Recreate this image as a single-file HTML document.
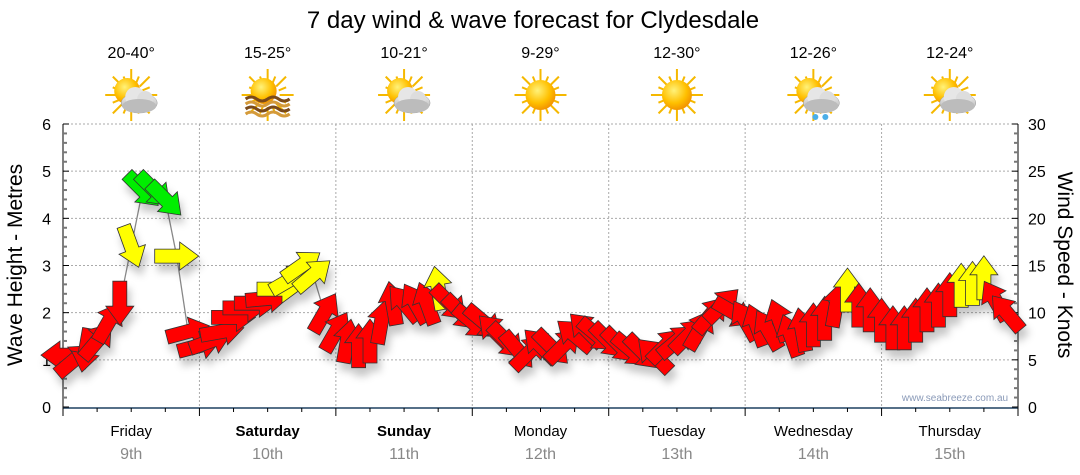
<!DOCTYPE html>
<html><head><meta charset="utf-8"><style>
html,body{margin:0;padding:0;background:#fff;}
svg{display:block;font-family:"Liberation Sans",sans-serif;}
</style></head><body>
<svg id="chart" width="1080" height="475" viewBox="0 0 1080 475">
<defs>
<filter id="sh" x="-20%" y="-20%" width="140%" height="160%"><feDropShadow dx="3" dy="8" stdDeviation="4" flood-color="#000" flood-opacity="0.22"/></filter>
<radialGradient id="sun" cx="0.4" cy="0.35" r="0.7"><stop offset="0" stop-color="#fff27a"/><stop offset="0.6" stop-color="#ffc000"/><stop offset="1" stop-color="#f08c00"/></radialGradient>
<linearGradient id="cloud" x1="0" y1="0" x2="0" y2="1"><stop offset="0" stop-color="#f4f4f4"/><stop offset="1" stop-color="#a9a9a9"/></linearGradient>
</defs>
<text x="533" y="28" font-size="24" text-anchor="middle" fill="#000">7 day wind &amp; wave forecast for Clydesdale</text>
<g id="grid"></g>
<g id="axes"></g>
<g id="icons"></g>
<g id="marks"></g>
<text x="955" y="401" font-size="10" text-anchor="middle" fill="#8a9ab8">www.seabreeze.com.au</text>
<text transform="translate(22,265) rotate(-90)" font-size="21" text-anchor="middle" fill="#000">Wave Height - Metres</text>
<text transform="translate(1058,265) rotate(90)" font-size="21" text-anchor="middle" fill="#000">Wind Speed - Knots</text>
</svg>
<script>
const days = ["Friday","Saturday","Sunday","Monday","Tuesday","Wednesday","Thursday"];
const dates = ["9th","10th","11th","12th","13th","14th","15th"];
const boldDays = [false,true,true,false,false,false,false];
const temps = ["20-40°","15-25°","10-21°","9-29°","12-30°","12-26°","12-24°"];
const iconTypes = ["cloud","haze","cloud","sun","sun","rain","cloud"];
const leftTicks = [0,1,2,3,4,5,6];
const rightTicks = [0,5,10,15,20,25,30];
const windKnots = [
 5.5,5,6,7,9,11,17,23,23,22,16,8,
 6.5,7,8,9.5,10.5,11,11.5,12.5,13.5,15,14,10,
 8,7,6.5,7,9,11,11,11,11,12.6,11,10,
 9,9,8,7,6,5.8,6.5,6.3,6.5,7.6,8.2,7.6,
 7,6.5,6,5.8,5.5,6.5,7,7.6,8.2,9.8,10.8,10,
 9.2,8.7,8.2,9.2,7.6,8.2,8.7,9.4,10.8,12.4,10.8,10.3,
 9.2,8.4,8.4,9.2,10.3,10.8,11.9,12.9,13.1,13.7,11.3,10
];
const windDir = [
 180,-40,100,-50,-60,90,70,45,45,45,0,-15,
 -15,-20,-10,0,0,0,-5,0,-30,-35,-40,-60,
 -60,-80,-90,-90,-80,-100,-130,-120,-110,-100,45,45,
 40,40,-135,45,50,-45,-135,45,-45,-140,-135,40,
 45,45,40,45,-135,-45,-40,-45,-60,-50,-45,30,
 -120,-110,-120,-110,-110,-100,-90,-90,-80,-90,-90,-90,
 -90,-90,-90,-90,-90,-90,-90,-90,-90,-90,-120,-130
];
const hoursPerPoint = 2;

const NS="http://www.w3.org/2000/svg";
const X0=63,X1=1018,Y0=407,YT=124;
const dayW=(X1-X0)/7;
function xHour(h){return X0+h/24*dayW;}
function yM(m){return Y0-(m/6)*(Y0-YT);}
function yK(k){return Y0-(k/30)*(Y0-YT);}
function mk(tag,attrs,parent){const e=document.createElementNS(NS,tag);for(const k in attrs)e.setAttribute(k,attrs[k]);parent.appendChild(e);return e;}

const grid=document.getElementById('grid');
const axes=document.getElementById('axes');
for(let i=1;i<=6;i++){
 const g=mk('line',{x1:X0,x2:X1,y1:yM(i),y2:yM(i),stroke:'#aaa','stroke-dasharray':'2,2'},grid);
 
 
}
for(let d=1;d<7;d++){
 const x=X0+d*dayW;
 const g=mk('line',{x1:x,x2:x,y1:YT,y2:Y0,stroke:'#aaa','stroke-dasharray':'2,2'},grid);
 
 
}
mk('line',{x1:X0,x2:X0,y1:YT,y2:Y0+4,stroke:'#000','stroke-width':1},axes);
mk('line',{x1:X1,x2:X1,y1:YT,y2:Y0+4,stroke:'#000','stroke-width':1},axes);
mk('line',{x1:X0,x2:X1,y1:Y0+1,y2:Y0+1,stroke:'#1f4060','stroke-width':1.5},axes);
for(let i=0;i<=30;i++){
 const y=Y0-i*(Y0-YT)/30;
 const major=i%5===0;
 mk('line',{x1:X0,x2:X0+(major?6:4),y1:y,y2:y,stroke:major?'#000':'#777','stroke-width':major?1:2},axes);
 mk('line',{x1:X1-(major?6:4),x2:X1,y1:y,y2:y,stroke:major?'#000':'#777','stroke-width':major?1:2},axes);
}
leftTicks.forEach(v=>{
 const t=mk('text',{x:X0-12,y:yM(v)+6,'font-size':16,'text-anchor':'end',fill:'#000'},axes);
 t.textContent=v;
 
 
});
rightTicks.forEach(v=>{
 const t=mk('text',{x:X1+10,y:yK(v)+6,'font-size':16,'text-anchor':'start',fill:'#000'},axes);
 t.textContent=v;
 
 
});
for(let q=0;q<=28;q++){
 const x=X0+q*dayW/4;const major=q%4===0;
 mk('line',{x1:x,x2:x,y1:Y0+1,y2:Y0+(major?9:5),stroke:'#000'},axes);
}
days.forEach((d,i)=>{
 const cx=X0+(i+0.5)*dayW;
 const t=mk('text',{x:cx,y:436,'font-size':15,'text-anchor':'middle',fill:'#000','font-weight':boldDays[i]?'bold':'normal'},axes);
 t.textContent=d;
 
 
 const t2=mk('text',{x:cx,y:459,'font-size':16,'text-anchor':'middle',fill:'#888'},axes);
 t2.textContent=dates[i];
 
 
 const t3=mk('text',{x:cx,y:58,'font-size':16,'text-anchor':'middle',fill:'#000'},axes);
 t3.textContent=temps[i];
 
 
});
const icons=document.getElementById('icons');
iconTypes.forEach((tp,i)=>{
 const cx=X0+(i+0.5)*dayW;const cy=95;
 const g=mk('g',{transform:`translate(${cx},${cy})`},icons);
 
 
 for(let a=0;a<16;a++){
  const ang=a*Math.PI/8;const r2=a%2?20:26;
  mk('line',{x1:Math.cos(ang)*12,y1:Math.sin(ang)*12,x2:Math.cos(ang)*r2,y2:Math.sin(ang)*r2,stroke:'#f5b800','stroke-width':2},g);
 }
 const sx=tp==='sun'?0:-4, sy=tp==='sun'?0:-4;
 mk('circle',{cx:sx,cy:sy,r:tp==='sun'?15:13,fill:'url(#sun)'},g);
 if(tp==='cloud'||tp==='rain'){
  mk('ellipse',{cx:8,cy:8,rx:18,ry:10,fill:'url(#cloud)',stroke:'#999','stroke-width':0.5},g);
  mk('circle',{cx:4,cy:2,r:10,fill:'#e6e6e6'},g);
  mk('circle',{cx:14,cy:4,r:8,fill:'#ddd'},g);
  mk('ellipse',{cx:8,cy:11,rx:17,ry:7,fill:'#bcbcbc'},g);
 }
 if(tp==='rain'){
  mk('circle',{cx:2,cy:22,r:3,fill:'#4aaee8'},g);
  mk('circle',{cx:12,cy:22,r:3,fill:'#4aaee8'},g);
 }
 if(tp==='haze'){
  for(let k=0;k<4;k++)mk('path',{d:`M-22 ${4+k*5} q5.5 -4 11 0 t11 0 t11 0 t11 0`,stroke:k%2?'#d49a3a':'#7a4a1a','stroke-width':3,fill:'none'},g);
 }
});
const marks=document.getElementById('marks');
const pts=windKnots.map((k,i)=>[xHour(i*hoursPerPoint),yK(k)]);
const line=mk('polyline',{points:pts.map(p=>p.join(',')).join(' '),fill:'none',stroke:'#888','stroke-width':1.3},marks);


const ag=mk('g',{filter:'url(#sh)'},marks);
windKnots.forEach((k,i)=>{
 const [x,y]=pts[i];
 const col=k>=20?'#00ee00':(k>=12?'#ffff00':'#ff0000');
 const p=mk('polygon',{points:'-22,-7 3,-7 3,-14 22,0 3,14 3,7 -22,7',fill:col,stroke:'#333','stroke-width':0.8,transform:`translate(${x.toFixed(1)},${y.toFixed(1)}) rotate(${windDir[i]})`},ag);
 
 
});
</script>
</body></html>
